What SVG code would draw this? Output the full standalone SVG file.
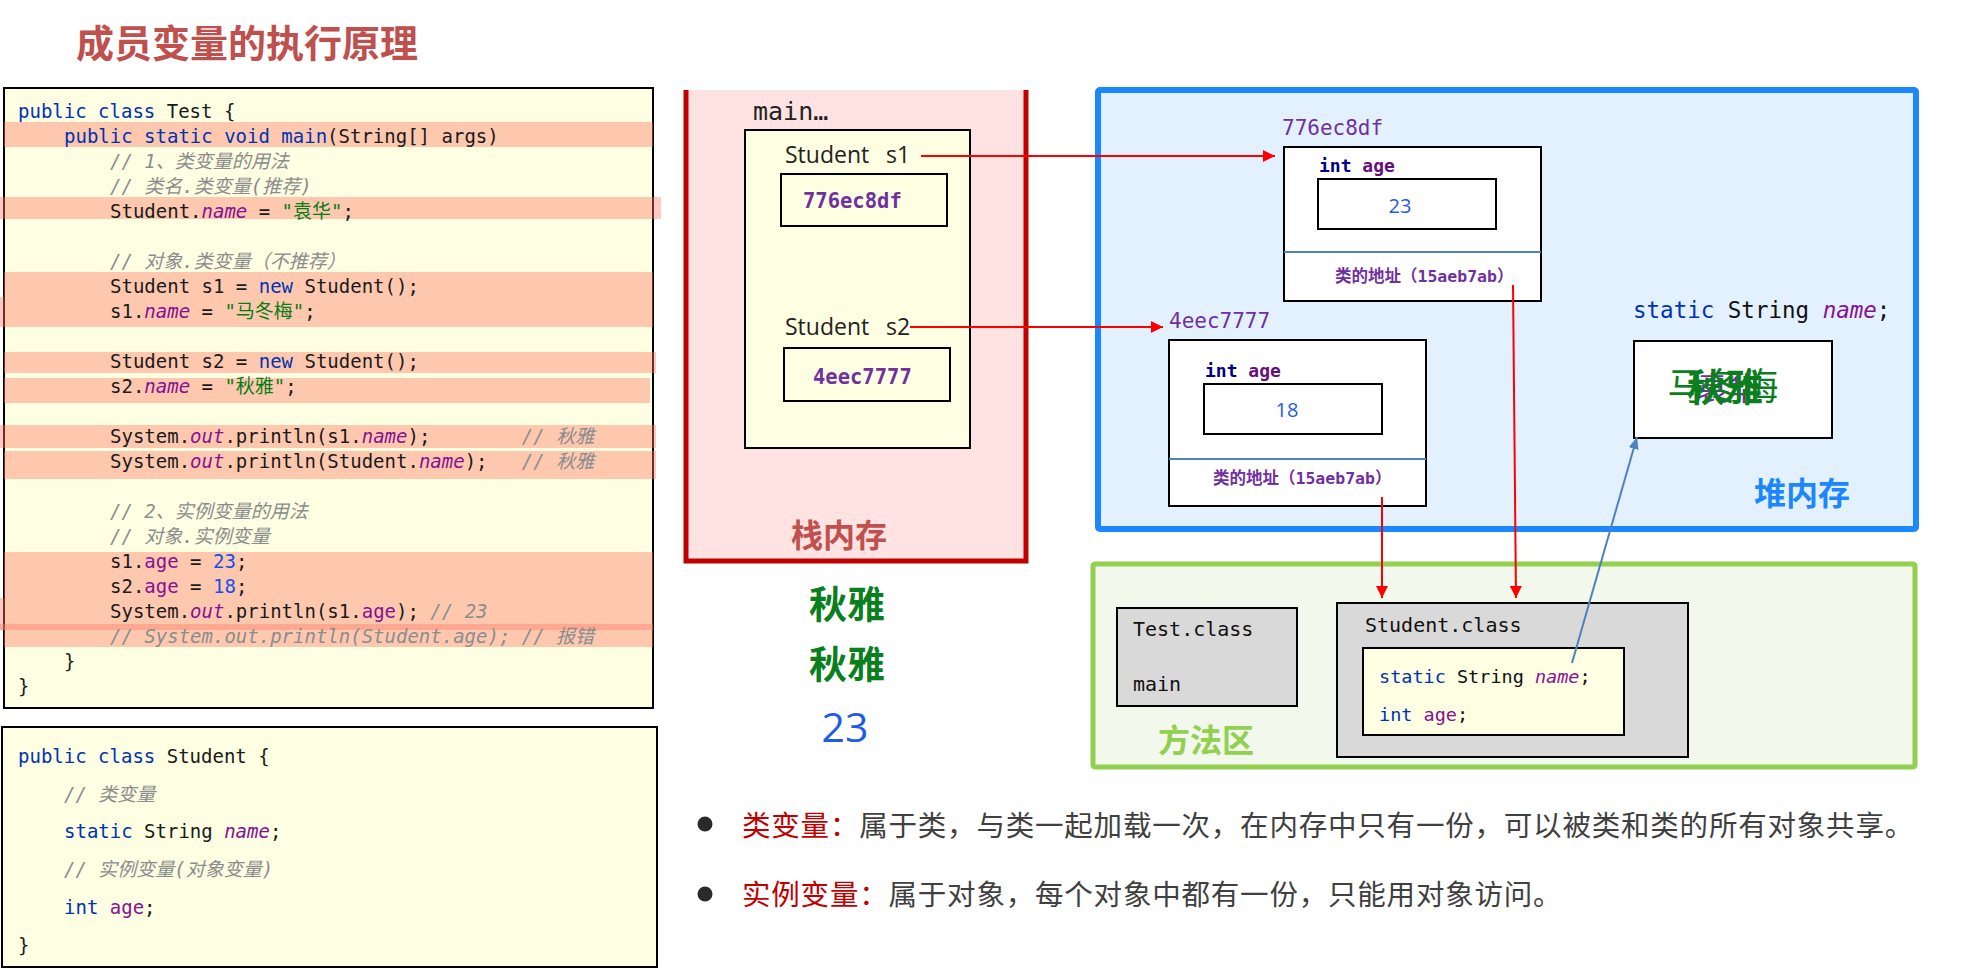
<svg xmlns="http://www.w3.org/2000/svg" width="1988" height="969" viewBox="0 0 1988 969">
<defs>
<style>
.code{font-family:"DejaVu Sans Mono","Noto Sans CJK SC",monospace;font-size:19px;fill:#1a1a1a;white-space:pre}
.kw{fill:#0033B3}
.fld{fill:#871094}
.it{font-style:italic}
.str{fill:#067D17}
.num{fill:#1750EB}
.cm{fill:#8C8C8C;font-style:italic}
.band{fill:#FF7864;fill-opacity:0.4}
.box{stroke:#000;stroke-width:2}
.sans{font-family:"Open Sans","Noto Sans","Noto Sans CJK SC",sans-serif}
.mono{font-family:"DejaVu Sans Mono","Noto Sans CJK SC",monospace;white-space:pre}
.cjkb{font-family:"Noto Sans CJK SC",sans-serif;font-weight:700}
.addr{fill:#7030A0}
.red{stroke:#FF0000;stroke-width:2;fill:none}
.note{font-family:"Noto Sans CJK SC",sans-serif;font-size:28.5px;fill:#404040;letter-spacing:0.8px}
</style>
<marker id="ar" markerWidth="12" markerHeight="12" refX="12" refY="6" orient="auto" markerUnits="userSpaceOnUse"><path d="M0,0 L12,6 L0,12 z" fill="#FF0000"/></marker>
<marker id="ab" markerWidth="12" markerHeight="10" refX="12" refY="5" orient="auto" markerUnits="userSpaceOnUse"><path d="M0,0 L12,5 L0,10 z" fill="#4F81BD"/></marker>
</defs>
<rect width="1988" height="969" fill="#fff"/>

<g id="title"><text x="76" y="57" class="cjkb" font-size="38" fill="#C0504D">成员变量的执行原理</text></g>

<g id="test-code">
<rect x="4" y="88" width="649" height="620" fill="#FEFEE2" class="box"/>
<rect class="band" x="4" y="122" width="649" height="25"/>
<rect class="band" x="0" y="197" width="661" height="22"/>
<rect class="band" x="4" y="272" width="649" height="55"/>
<rect class="band" x="0" y="297" width="4" height="30"/>
<rect class="band" x="4" y="352" width="652" height="21"/>
<rect class="band" x="4" y="378" width="646" height="25"/>
<rect class="band" x="0" y="425" width="656" height="23"/>
<rect class="band" x="4" y="451" width="652" height="28"/>
<rect class="band" x="4" y="552" width="649" height="95"/>
<rect class="band" x="0" y="598" width="4" height="32"/>
<rect class="band" x="0" y="624" width="653" height="6"/>
<text class="code" x="18" y="118"><tspan class="kw">public class</tspan> Test {</text>
<text class="code" x="64" y="143"><tspan class="kw">public static void main</tspan>(String[] args)</text>
<text class="code cm" x="110" y="168">// 1、类变量的用法</text>
<text class="code cm" x="110" y="193">// 类名.类变量(推荐)</text>
<text class="code" x="110" y="218">Student.<tspan class="fld it">name</tspan> = <tspan class="str">"袁华"</tspan>;</text>
<text class="code cm" x="110" y="268">// 对象.类变量（不推荐）</text>
<text class="code" x="110" y="293">Student s1 = <tspan class="kw">new</tspan> Student();</text>
<text class="code" x="110" y="318">s1.<tspan class="fld it">name</tspan> = <tspan class="str">"马冬梅"</tspan>;</text>
<text class="code" x="110" y="368">Student s2 = <tspan class="kw">new</tspan> Student();</text>
<text class="code" x="110" y="393">s2.<tspan class="fld it">name</tspan> = <tspan class="str">"秋雅"</tspan>;</text>
<text class="code" x="110" y="443">System.<tspan class="fld it">out</tspan>.println(s1.<tspan class="fld it">name</tspan>);        <tspan class="cm">// 秋雅</tspan></text>
<text class="code" x="110" y="468">System.<tspan class="fld it">out</tspan>.println(Student.<tspan class="fld it">name</tspan>);   <tspan class="cm">// 秋雅</tspan></text>
<text class="code cm" x="110" y="518">// 2、实例变量的用法</text>
<text class="code cm" x="110" y="543">// 对象.实例变量</text>
<text class="code" x="110" y="568">s1.<tspan class="fld">age</tspan> = <tspan class="num">23</tspan>;</text>
<text class="code" x="110" y="593">s2.<tspan class="fld">age</tspan> = <tspan class="num">18</tspan>;</text>
<text class="code" x="110" y="618">System.<tspan class="fld it">out</tspan>.println(s1.<tspan class="fld">age</tspan>); <tspan class="cm">// 23</tspan></text>
<text class="code cm" x="110" y="643">// System.out.println(Student.age); // 报错</text>
<text class="code" x="64" y="668">}</text>
<text class="code" x="18" y="693">}</text>
</g>

<g id="student-code">
<rect x="2" y="727" width="655" height="240" fill="#FEFEE2" class="box"/>
<text class="code" x="18" y="763"><tspan class="kw">public class</tspan> Student {</text>
<text class="code cm" x="64" y="801">// 类变量</text>
<text class="code" x="64" y="838"><tspan class="kw">static</tspan> String <tspan class="fld it">name</tspan>;</text>
<text class="code cm" x="64" y="876">// 实例变量(对象变量)</text>
<text class="code" x="64" y="914"><tspan class="kw">int</tspan> <tspan class="fld">age</tspan>;</text>
<text class="code" x="18" y="952">}</text>
</g>

<g id="stack">
<rect x="686" y="90" width="340" height="471" fill="#FFE2E2"/>
<path d="M686,90 L686,561 L1026,561 L1026,90" fill="none" stroke="#C00000" stroke-width="5"/>
<text x="753" y="120" class="mono" font-size="25" fill="#222">main…</text>
<rect x="745" y="130" width="225" height="318" fill="#FEFEE2" class="box"/>
<text x="785" y="163" class="sans" font-size="23" fill="#222">Student</text>
<text x="886" y="163" class="sans" font-size="23" fill="#222">s1</text>
<rect x="781" y="174" width="166" height="52" fill="#FEFEE2" class="box"/>
<text x="803" y="208" class="mono addr" font-size="20.5" font-weight="700">776ec8df</text>
<text x="785" y="335" class="sans" font-size="23" fill="#222">Student</text>
<text x="886" y="335" class="sans" font-size="23" fill="#222">s2</text>
<rect x="784" y="348" width="166" height="53" fill="#FEFEE2" class="box"/>
<text x="813" y="384" class="mono addr" font-size="20.5" font-weight="700">4eec7777</text>
<text x="839" y="547" class="cjkb" font-size="32" fill="#C0504D" text-anchor="middle">栈内存</text>
</g>

<g id="output">
<text x="847" y="618" class="cjkb" font-size="38" fill="#0B7E1E" text-anchor="middle">秋雅</text>
<text x="847" y="678" class="cjkb" font-size="38" fill="#0B7E1E" text-anchor="middle">秋雅</text>
<text x="845" y="742" class="sans" font-size="41" fill="#1F5BE8" text-anchor="middle">23</text>
</g>

<g id="heap">
<rect x="1098" y="90" width="818" height="439" rx="2" fill="#E3F1FF" stroke="#1C86FF" stroke-width="6"/>
<text x="1802" y="505" class="cjkb" font-size="32" fill="#1C86FF" text-anchor="middle">堆内存</text>
</g>

<g id="obj1">
<text x="1282" y="135" class="mono addr" font-size="21">776ec8df</text>
<rect x="1284" y="147" width="257" height="154" fill="#fff" class="box"/>
<line x1="1284" y1="252" x2="1541" y2="252" stroke="#4F81BD" stroke-width="2"/>
<text x="1319" y="172" class="mono" font-size="18" font-weight="700"><tspan fill="#000080">int</tspan> <tspan fill="#660E7A">age</tspan></text>
<rect x="1318" y="179" width="178" height="50" fill="#fff" class="box"/>
<text x="1400" y="213" class="sans" font-size="20" fill="#1F5BE8" text-anchor="middle">23</text>
<text x="1335" y="282" class="mono addr" font-size="16.5" font-weight="700">类的地址（15aeb7ab）</text>
</g>

<g id="obj2">
<text x="1169" y="328" class="mono addr" font-size="21">4eec7777</text>
<rect x="1169" y="340" width="257" height="166" fill="#fff" class="box"/>
<line x1="1169" y1="459" x2="1426" y2="459" stroke="#4F81BD" stroke-width="2"/>
<text x="1205" y="377" class="mono" font-size="18" font-weight="700"><tspan fill="#000080">int</tspan> <tspan fill="#660E7A">age</tspan></text>
<rect x="1204" y="384" width="178" height="50" fill="#fff" class="box"/>
<text x="1287" y="417" class="sans" font-size="20" fill="#1F5BE8" text-anchor="middle">18</text>
<text x="1213" y="484" class="mono addr" font-size="16.5" font-weight="700">类的地址（15aeb7ab）</text>
</g>

<g id="static-name">
<text x="1633" y="318" class="mono" font-size="22.5"><tspan class="kw">static</tspan> <tspan fill="#111">String</tspan> <tspan class="fld it">name</tspan><tspan fill="#111">;</tspan></text>
<rect x="1634" y="341" width="198" height="97" fill="#fff" class="box"/>
<text x="1728" y="400" font-family="Noto Sans CJK SC,sans-serif" font-size="32" fill="#7030A0" text-anchor="middle">袁华</text>
<text x="1723" y="400" font-family="Noto Sans CJK SC,sans-serif" font-size="37" fill="#0B7E1E" text-anchor="middle">马冬梅</text>
<text x="1725" y="401" class="cjkb" font-size="38" fill="#0B7E1E" text-anchor="middle">秋雅</text>
</g>

<g id="method-area">
<rect x="1093" y="564" width="822" height="203" rx="2" fill="#F2F8EC" stroke="#92D050" stroke-width="5"/>
<text x="1206" y="752" class="cjkb" font-size="32" fill="#92D050" text-anchor="middle">方法区</text>
</g>

<g id="test-class">
<rect x="1117" y="608" width="180" height="98" fill="#D9D9D9" class="box"/>
<text x="1133" y="636" class="mono" font-size="20" fill="#111">Test.class</text>
<text x="1133" y="691" class="mono" font-size="20" fill="#111">main</text>
</g>

<g id="student-class">
<rect x="1337" y="603" width="351" height="154" fill="#D9D9D9" class="box"/>
<text x="1365" y="632" class="mono" font-size="20" fill="#111">Student.class</text>
<rect x="1363" y="648" width="261" height="87" fill="#FEFEE2" class="box"/>
<text x="1379" y="683" class="mono" font-size="18.5"><tspan class="kw">static</tspan> <tspan fill="#111">String</tspan> <tspan class="fld it">name</tspan><tspan fill="#111">;</tspan></text>
<text x="1379" y="721" class="mono" font-size="18.5"><tspan class="kw">int</tspan> <tspan class="fld">age</tspan><tspan fill="#111">;</tspan></text>
</g>

<g id="connectors">
<path class="red" d="M921,156 L1275,156" marker-end="url(#ar)"/>
<path class="red" d="M910,327 L1163,327" marker-end="url(#ar)"/>
<path class="red" d="M1382,497 L1382,598" marker-end="url(#ar)"/>
<path class="red" d="M1513,285 L1516,598" marker-end="url(#ar)"/>
<path d="M1572,663 L1637,437" stroke="#4F81BD" stroke-width="2" fill="none" marker-end="url(#ab)"/>
</g>

<g id="notes">
<circle cx="705" cy="824" r="7.5" fill="#2a2a2a"/>
<text x="742" y="836" class="note"><tspan fill="#C00000">类变量：</tspan>属于类，与类一起加载一次，在内存中只有一份，可以被类和类的所有对象共享。</text>
<circle cx="705" cy="894" r="7.5" fill="#2a2a2a"/>
<text x="742" y="905" class="note"><tspan fill="#C00000">实例变量：</tspan>属于对象，每个对象中都有一份，只能用对象访问。</text>
</g>
</svg>
